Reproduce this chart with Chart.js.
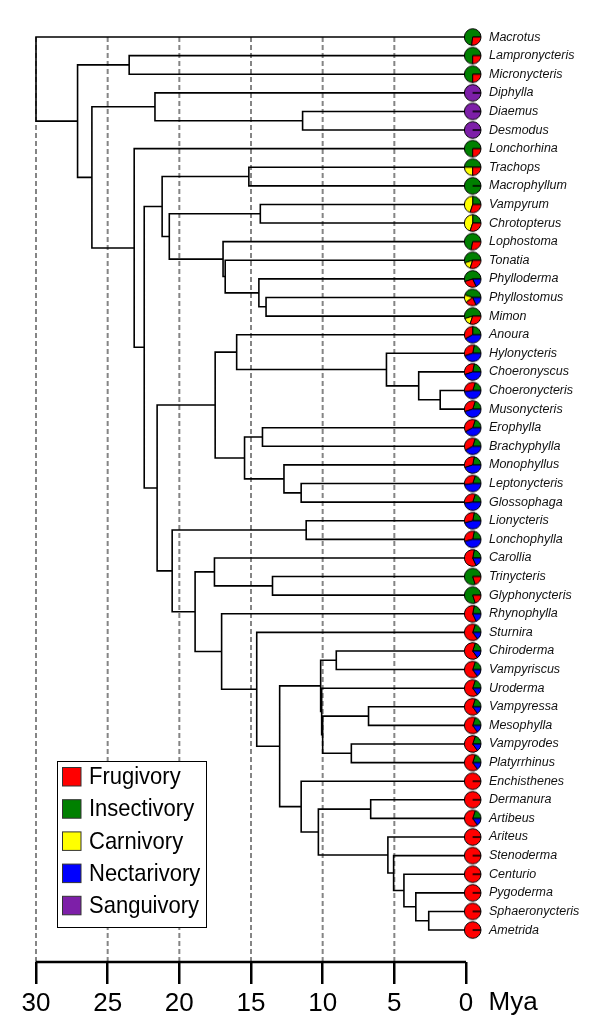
<!DOCTYPE html>
<html>
<head>
<meta charset="utf-8">
<script src="https://cdn.jsdelivr.net/npm/chart.js@4.4.1/dist/chart.umd.min.js"></script>
<style>
  html, body { margin: 0; padding: 0; background: #fff; }
  #wrap { width: 600px; height: 1024px; }
</style>
</head>
<body>
<div id="wrap"><canvas id="treeChart" width="600" height="1024"></canvas></div>
<script>
var taxa = ['Macrotus', 'Lampronycteris', 'Micronycteris', 'Diphylla', 'Diaemus', 'Desmodus',
  'Lonchorhina', 'Trachops', 'Macrophyllum', 'Vampyrum', 'Chrotopterus', 'Lophostoma', 'Tonatia',
  'Phylloderma', 'Phyllostomus', 'Mimon', 'Anoura', 'Hylonycteris', 'Choeronyscus', 'Choeronycteris',
  'Musonycteris', 'Erophylla', 'Brachyphylla', 'Monophyllus', 'Leptonycteris', 'Glossophaga',
  'Lionycteris', 'Lonchophylla', 'Carollia', 'Trinycteris', 'Glyphonycteris', 'Rhynophylla', 'Sturnira',
  'Chiroderma', 'Vampyriscus', 'Uroderma', 'Vampyressa', 'Mesophylla', 'Vampyrodes', 'Platyrrhinus',
  'Enchisthenes', 'Dermanura', 'Artibeus', 'Ariteus', 'Stenoderma', 'Centurio', 'Pygoderma',
  'Sphaeronycteris', 'Ametrida'];

// diet shares of each genus (pie slices start at 3 o'clock and run counter-clockwise
// in the order insectivory, carnivory, frugivory, nectarivory, sanguivory)
var insectivory = [.73, .75, .75, 0, 0, 0, .75, .5, 1, .25, .25, .72, .55, .55, .45, .55,
  .25, .22, .22, .2, .2, .2, .2, .22, .2, .2, .22, .22, .22, .8, .8, .22, .2,
  .2, .2, .2, .2, .2, .2, .2, 0, 0, .2, 0, 0, 0, 0, 0, 0];
var carnivory = [0, 0, 0, 0, 0, 0, 0, .25, 0, .45, .45, 0, .15, 0, .15, .15,
  0, 0, 0, 0, 0, 0, 0, 0, 0, 0, 0, 0, 0, 0, 0, 0, 0,
  0, 0, 0, 0, 0, 0, 0, 0, 0, 0, 0, 0, 0, 0, 0, 0];
var frugivory = [.27, .25, .25, 0, 0, 0, .25, .25, 0, .3, .3, .28, .3, .27, .22, .3,
  .33, .33, .33, .32, .35, .38, .38, .33, .32, .32, .32, .32, .6, .2, .2, .6, .65,
  .65, .65, .65, .65, .65, .65, .65, 1, 1, .65, 1, 1, 1, 1, 1, 1];
var nectarivory = [0, 0, 0, 0, 0, 0, 0, 0, 0, 0, 0, 0, 0, .18, .18, 0,
  .42, .45, .45, .48, .45, .42, .42, .45, .48, .48, .46, .46, .18, 0, 0, .18, .15,
  .15, .15, .15, .15, .15, .15, .15, 0, 0, .15, 0, 0, 0, 0, 0, 0];
var sanguivory = [0, 0, 0, 1, 1, 1, 0, 0, 0, 0, 0, 0, 0, 0, 0, 0,
  0, 0, 0, 0, 0, 0, 0, 0, 0, 0, 0, 0, 0, 0, 0, 0, 0,
  0, 0, 0, 0, 0, 0, 0, 0, 0, 0, 0, 0, 0, 0, 0, 0];

var dietLabels = ['Frugivory', 'Insectivory', 'Carnivory', 'Nectarivory', 'Sanguivory'];

// internal nodes, children first: a number is a tip index, 'nK' is node K
var nodeKids = [[1, 2], [4, 5], [3, 'n1'], [7, 8], [9, 10], [14, 15], [13, 'n5'], [12, 'n6'],
  [11, 'n7'], ['n4', 'n8'], ['n3', 'n9'], [19, 20], [18, 'n11'], [17, 'n12'], [16, 'n13'],
  [21, 22], [24, 25], [23, 'n16'], ['n15', 'n17'], ['n14', 'n18'], [26, 27], [29, 30],
  [28, 'n21'], [33, 34], [36, 37], [38, 39], ['n24', 'n25'], [35, 'n26'], ['n23', 'n27'],
  [41, 42], [47, 48], [46, 'n30'], [45, 'n31'], [44, 'n32'], [43, 'n33'], ['n29', 'n34'],
  [40, 'n35'], ['n28', 'n36'], [32, 'n37'], [31, 'n38'], ['n22', 'n39'], ['n20', 'n40'],
  ['n19', 'n41'], ['n10', 'n42'], [6, 'n43'], ['n2', 'n44'], ['n0', 'n45'], [0, 'n46']];
// node ages (Mya)
var nodeAges = [23.5, 11.4, 21.7, 15.15, 14.35, 13.95, 14.45, 16.8, 16.95, 20.7, 21.2,
  1.8, 3.3, 5.55, 16.0, 14.2, 11.5, 12.7, 15.45, 17.5, 11.15, 13.5, 17.55,
  9.05, 6.8, 8.0, 10.0, 10.07, 10.14, 6.65, 2.6, 3.5, 4.33, 5.05, 5.45, 10.3,
  11.5, 13.0, 14.6, 17.05, 18.9, 20.5, 21.55, 22.45, 23.15, 26.1, 27.1, 30.0];

var timeTicks = [30, 25, 20, 15, 10, 5, 0];
var guideTimes = [30, 25, 20, 15, 10, 5];

// ---- styling / layout ----
var colorOf = { Frugivory: '#ff0000', Insectivory: '#008000', Carnivory: '#ffff00',
  Nectarivory: '#0000ff', Sanguivory: '#7d1fa8' };
var plotLeft = 36, plotRight = 481, plotBottom = 962;
var pxPerMy = 430 / 30;
var xMin = -(plotRight - plotLeft - 30 * pxPerMy) / pxPerMy;
var firstTipPx = 27.3, tipStep = 18.8;
var yMin = -firstTipPx / tipStep, yMax = (plotBottom - firstTipPx) / tipStep;
var pieRadius = 8.3, pieShift = 6.7;
var sansFont = '"Liberation Sans", Arial, Helvetica, sans-serif';

function ageOf(ref) { return typeof ref === 'number' ? 0 : nodeAges[+ref.slice(1)]; }
var nodeY = [];
function yOf(ref) { return typeof ref === 'number' ? ref : nodeY[+ref.slice(1)]; }
nodeKids.forEach(function (k, i) { nodeY[i] = (yOf(k[0]) + yOf(k[1])) / 2; });

var branchPts = [];
nodeKids.forEach(function (k, i) {
  var a = nodeAges[i];
  branchPts.push({x: ageOf(k[0]), y: yOf(k[0])}, {x: a, y: yOf(k[0])},
    {x: a, y: yOf(k[1])}, {x: ageOf(k[1]), y: yOf(k[1])}, {x: a, y: null});
});

function makePie(i) {
  var c = document.createElement('canvas');
  var w = 2 * Math.ceil(pieShift + pieRadius + 2), h = 2 * Math.ceil(pieRadius + 2);
  c.width = w; c.height = h;
  var g = c.getContext('2d');
  var cx = w / 2 + pieShift, cy = h / 2;
  var shares = [insectivory[i], carnivory[i], frugivory[i], nectarivory[i], sanguivory[i]];
  var cols = [colorOf.Insectivory, colorOf.Carnivory, colorOf.Frugivory, colorOf.Nectarivory, colorOf.Sanguivory];
  var tot = shares.reduce(function (s, v) { return s + v; }, 0);
  var a = 0;
  shares.forEach(function (f, k) {
    if (!f) return;
    var b = a - f / tot * Math.PI * 2;
    g.beginPath();
    g.moveTo(cx, cy);
    g.arc(cx, cy, pieRadius, a, b, true);
    g.closePath();
    g.fillStyle = cols[k];
    g.fill();
    g.lineWidth = 1;
    g.strokeStyle = '#000';
    g.stroke();
    a = b;
  });
  return c;
}
var pieImages = taxa.map(function (t, i) { return makePie(i); });

var datasets = [{
  label: 'diet',
  data: taxa.map(function (t, i) { return {x: 0, y: i}; }),
  pointStyle: pieImages,
  pointRadius: 9,
  clip: false
}, {
  label: 'tree',
  data: branchPts,
  showLine: true,
  spanGaps: false,
  borderColor: '#000',
  borderWidth: 1.6,
  pointRadius: 0,
  clip: false
}, {
  label: 'axis',
  data: [{x: 30, y: yMax}, {x: 0, y: yMax}],
  showLine: true,
  borderColor: '#000',
  borderWidth: 2.5,
  pointRadius: 0,
  clip: false
}];
guideTimes.forEach(function (t) {
  datasets.push({
    label: 'guide ' + t,
    data: [{x: t, y: 0}, {x: t, y: yMax}],
    showLine: true,
    borderColor: '#858585',
    borderWidth: 2,
    borderDash: [5, 3],
    pointRadius: 0,
    clip: false
  });
});

var extras = {
  id: 'extras',
  afterDraw: function (chart) {
    var ctx = chart.ctx;
    var xs = chart.scales.x;
    ctx.save();
    // unit after the last tick
    ctx.fillStyle = '#000';
    ctx.font = '26px ' + sansFont;
    ctx.textBaseline = 'middle';
    ctx.textAlign = 'left';
    ctx.fillText('Mya', xs.getPixelForValue(0) + 22.5, 1003);
    // legend
    ctx.lineWidth = 1;
    ctx.strokeStyle = '#000';
    ctx.fillStyle = '#fff';
    ctx.fillRect(57.5, 761.5, 149, 166);
    ctx.strokeRect(57.5, 761.5, 149, 166);
    dietLabels.forEach(function (d, i) {
      var cy = 776.5 + i * 32.2;
      ctx.fillStyle = colorOf[d];
      ctx.fillRect(62.5, cy - 9, 18.5, 18.5);
      ctx.strokeStyle = '#333';
      ctx.strokeRect(62.5, cy - 9, 18.5, 18.5);
      ctx.save();
      ctx.translate(89, cy);
      ctx.scale(1, 1.1);
      ctx.fillStyle = '#000';
      ctx.font = '22px ' + sansFont;
      ctx.textBaseline = 'middle';
      ctx.fillText(d, 0, 1);
      ctx.restore();
    });
    ctx.restore();
  }
};

new Chart(document.getElementById('treeChart'), {
  type: 'scatter',
  data: { datasets: datasets },
  options: {
    responsive: false,
    devicePixelRatio: 1,
    animation: false,
    events: [],
    layout: { padding: { left: plotLeft, top: 0, right: 0, bottom: 0 } },
    plugins: { legend: { display: false }, tooltip: { enabled: false } },
    scales: {
      x: {
        type: 'linear',
        reverse: true,
        min: xMin,
        max: 30,
        afterBuildTicks: function (s) { s.ticks = timeTicks.map(function (v) { return {value: v}; }); },
        afterFit: function (s) { s.height = 1024 - plotBottom; s.paddingLeft = 0; s.paddingRight = 0; },
        border: { display: false },
        grid: { drawOnChartArea: false, drawTicks: true, tickLength: 22, lineWidth: 2.5, color: '#000' },
        ticks: { color: '#000', padding: 4, maxRotation: 0, autoSkip: false,
          font: { family: sansFont, size: 26 } }
      },
      y: {
        type: 'linear',
        position: 'right',
        reverse: true,
        min: yMin,
        max: yMax,
        afterBuildTicks: function (s) { s.ticks = taxa.map(function (t, i) { return {value: i}; }); },
        afterFit: function (s) { s.width = 600 - plotRight; s.paddingTop = 0; s.paddingBottom = 0; },
        border: { display: false },
        grid: { display: false, drawTicks: false },
        ticks: {
          color: '#111', padding: 8, autoSkip: false,
          font: { family: sansFont, size: 12.5, style: 'italic' },
          callback: function (v) { return taxa[v]; }
        }
      }
    }
  },
  plugins: [extras]
});
</script>
</body>
</html>
